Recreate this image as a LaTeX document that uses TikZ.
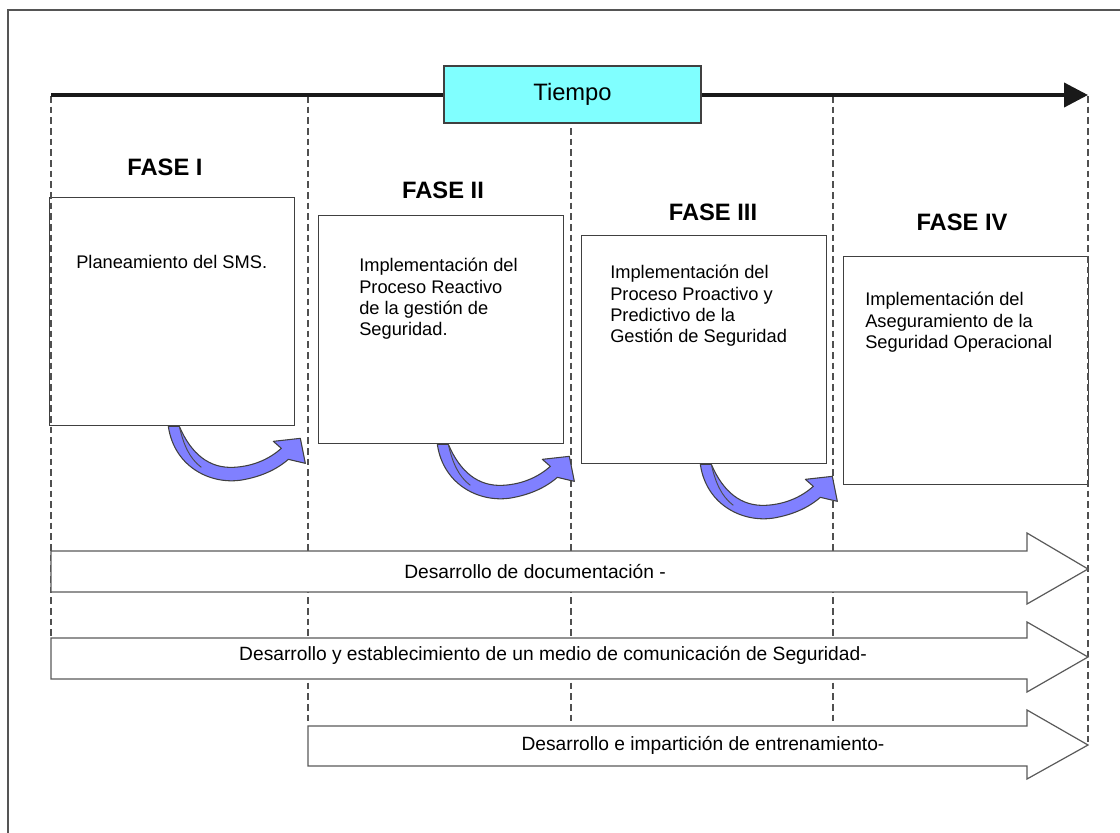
\documentclass[tikz,border=0pt]{standalone}
\usepackage{fontspec}
\setmainfont{Liberation Sans}
\usetikzlibrary{arrows.meta}
\definecolor{framegray}{HTML}{555555}
\definecolor{boxgray}{HTML}{404040}
\definecolor{guidegray}{HTML}{505050}
\definecolor{bandgray}{HTML}{5A5A5A}
\definecolor{timecyan}{HTML}{80FFFF}
\definecolor{turnblue}{HTML}{8080FF}
\tikzset{
  phasebox/.style={draw=boxgray, line width=1pt, fill=white, inner sep=0pt,
    minimum width=183.75pt, minimum height=171pt, anchor=north west},
  phasetext/.style={inner sep=0pt, anchor=north west, align=left,
    font=\fontsize{13.7}{16}\selectfont},
  phasetitle/.style={inner sep=0pt, font=\fontsize{17.8}{20}\selectfont\bfseries},
  guide/.style={draw=guidegray, line width=1.6pt, dash pattern=on 5pt off 3pt},
  band/.style={draw=bandgray, line width=0.9pt, fill=white, line join=miter},
  bandtext/.style={inner sep=0pt, font=\fontsize{14.4}{17}\selectfont},
  turn/.pic={
    \fill[turnblue, draw=black!75, line width=0.8pt, line join=round]
      (-127,0) .. controls (-121,42) and (-82,60) .. (-50,53)
      .. controls (-30,49) and (-16,41) .. (-7,33)
      -- (10,37) -- (5,12) -- (-22,15) -- (-14,22)
      .. controls (-24,31) and (-40,40) .. (-62,41)
      .. controls (-86,42) and (-104,28) .. (-116,0) -- cycle;
    \draw[black!70, line width=0.7pt] (-116,0) .. controls (-112,18) and (-106,32) .. (-94,41);
  }
}
\begin{document}
\begin{tikzpicture}[x=0.75pt, y=-0.75pt]
\useasboundingbox (0,0) rectangle (1120,832);
\fill[white] (0,0) rectangle (1120,832);

% outer frame (runs past the right and bottom edges)
\draw[framegray, line width=1.2pt] (8,840) -- (8,10) -- (1130,10);

% phase boxes
\node[phasebox] (b1) at (49,197) {};
\node[phasebox] (b2) at (318,215) {};
\node[phasebox] (b3) at (581,235) {};
\node[phasebox] (b4) at (843,256) {};

% phase titles
\node[phasetitle] (f1) at (165,167) {FASE I};
\node[phasetitle] (f2) at (443,190) {FASE II};
\node[phasetitle] (f3) at (713,212) {FASE III};
\node[phasetitle] (f4) at (962,222) {FASE IV};

% phase descriptions
\node[phasetext] (t1) at (76,255) {Planeamiento del SMS.};
\node[phasetext] (t2) at (359,258) {Implementación del\\Proceso Reactivo\\de la gestión de\\Seguridad.};
\node[phasetext] (t3) at (610,265) {Implementación del\\Proceso Proactivo y\\Predictivo de la\\Gestión de Seguridad};
\node[phasetext] (t4) at (865,292) {Implementación del\\Aseguramiento de la\\Seguridad Operacional};

% vertical phase separators
\coordinate (g1a) at (51,96);   \coordinate (g1b) at (51,638);
\coordinate (g2a) at (308,96);  \coordinate (g2b) at (308,725);
\coordinate (g3a) at (571,96);  \coordinate (g3b) at (571,725);
\coordinate (g4a) at (833,96);  \coordinate (g4b) at (833,725);
\coordinate (g5a) at (1088,96); \coordinate (g5b) at (1088,742);
\foreach \g in {1,...,5} \draw[guide] (g\g a) -- (g\g b);

% time axis
\coordinate (ta) at (51,95);
\coordinate (tb) at (1088,95);
\draw[black!90, line width=3pt, -{Triangle[length=18pt, width=18pt]}] (ta) -- (tb);
\node[draw=boxgray, line width=1pt, fill=timecyan, minimum width=192.75pt,
  minimum height=42.75pt, inner sep=0pt, font=\fontsize{17.8}{20}\selectfont]
  (tiempo) at (572.5,94.5) {Tiempo};

% transitions between phases
\pic at (b1.south east) {turn};
\pic at (b2.south east) {turn};
\pic at (b3.south east) {turn};

% long-running activities
\draw[band] (51,551) -- (1027,551) -- (1027,533) -- (1088,569) -- (1027,604)
  -- (1027,592) -- (51,592) -- cycle;
\node[bandtext] (a1) at (535,572) {Desarrollo de documentación -};

\draw[band] (51,638) -- (1027,638) -- (1027,622) -- (1088,657) -- (1027,692)
  -- (1027,679) -- (51,679) -- cycle;
\node[bandtext] (a2) at (553,655) {Desarrollo y establecimiento de un medio de comunicación de Seguridad-};

\draw[band] (308,726) -- (1027,726) -- (1027,710) -- (1088,745) -- (1027,779)
  -- (1027,766) -- (308,766) -- cycle;
\node[bandtext] (a3) at (703,745) {Desarrollo e impartición de entrenamiento-};
\end{tikzpicture}
\end{document}
